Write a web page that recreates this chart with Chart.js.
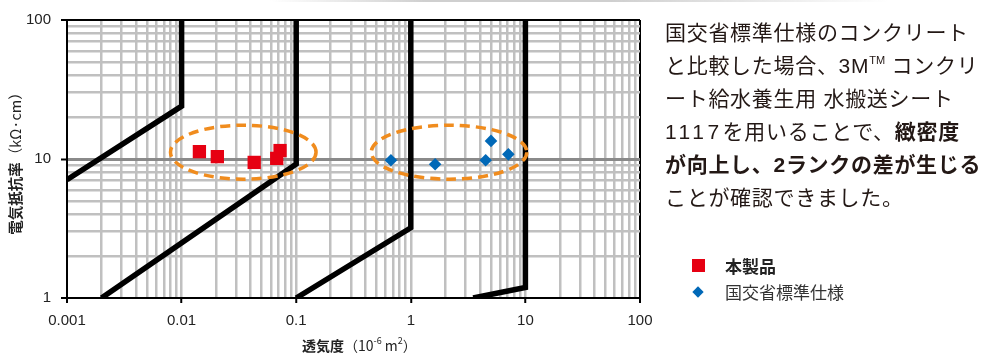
<!DOCTYPE html>
<html><head><meta charset="utf-8">
<script src="https://cdn.jsdelivr.net/npm/chart.js@4"></script>
<style>
html,body{margin:0;padding:0;background:#fff;}
#wrap{position:relative;width:1000px;height:357px;overflow:hidden;font-family:"Noto Sans CJK JP","Noto Sans",sans-serif;}
#c{position:absolute;left:0;top:0;}
#topline{position:absolute;left:270px;top:0;width:620px;height:2px;background:linear-gradient(to right,rgba(200,200,200,0),#cfcfcf 25%,#cfcfcf 55%,rgba(200,200,200,0));}
#note{position:absolute;left:665px;top:16px;font-family:"Liberation Sans","Noto Sans CJK JP",sans-serif;font-size:21px;line-height:33px;color:#231815;letter-spacing:0.7px;white-space:nowrap;}
#note sup{font-size:11px;vertical-align:9px;line-height:0;letter-spacing:0;}
#note b{font-weight:700;}
#note .num{letter-spacing:3.5px;}
.lgt{position:absolute;left:725px;font-size:17px;line-height:20px;color:#333;white-space:nowrap;}
#lgsq{position:absolute;left:692px;top:259px;width:13px;height:13px;background:#e60012;}
#lgdm{position:absolute;left:694px;top:288px;width:8px;height:8px;background:#0068b7;transform:rotate(45deg);}
</style></head>
<body>
<div id="wrap">
<canvas id="c" width="1000" height="357"></canvas>
<div id="topline"></div>
<div id="note">国交省標準仕様のコンクリート<br>と比較した場合、3M<sup>TM</sup> コンクリ<br>ート給水養生用 水搬送シート<br><span class="num">1117</span>を用いることで、<b>緻密度</b><br><b>が向上し、2ランクの差が生じる</b><br>ことが確認できました。</div>
<div id="lgsq"></div><div class="lgt" style="top:256px;font-weight:700;color:#222;">本製品</div>
<div id="lgdm"></div><div class="lgt" style="top:282px;">国交省標準仕様</div>
</div>
<script>
// ---- data ----
const xTickLabels = ['0.001','0.01','0.1','1','10','100'];
const yTickLabels = ['1','10','100'];
const minorSteps = [1,2,3,4,5,6,7,8,9];

const productX = [0.0143, 0.0205, 0.043, 0.0676, 0.0723];
const productY = [11.3, 10.4, 9.45, 10.1, 11.5];

const standardX = [0.671, 1.63, 4.5, 5.01, 7.1];
const standardY = [9.8, 9.16, 9.8, 13.5, 10.8];

const boundaryAX = [0.001, 0.01, 0.01];
const boundaryAY = [7.1, 24, 100];
const boundaryBX = [0.002, 0.1, 0.1];
const boundaryBY = [1, 9.2, 100];
const boundaryCX = [0.1, 1, 1];
const boundaryCY = [1, 3.2, 100];
const boundaryDX = [3.5, 10, 10];
const boundaryDY = [1, 1.19, 100];

const ellipseProductX = [0.008, 0.149];
const ellipseProductY = [7.16, 17.5];
const ellipseStandardX = [0.452, 10.3];
const ellipseStandardY = [7.16, 17.5];

// ---- helpers ----
const pts = (xs, ys) => xs.map((x, i) => ({x: x, y: ys[i]}));
function buildTicks(labels){
  const dec = labels.map(Number);
  const out = [];
  dec.forEach((d, i) => {
    if (i === dec.length - 1) { out.push(d); return; }
    minorSteps.forEach(m => out.push(Number((m * d).toPrecision(6))));
  });
  return {dec, out};
}
const xT = buildTicks(xTickLabels);
const yT = buildTicks(yTickLabels);
const isMajor = (dec, v) => dec.some(d => Math.abs(d - v) / d < 1e-9);
const labelOf = (dec, labels, v) => { const i = dec.findIndex(d => Math.abs(d - v) / d < 1e-9); return i >= 0 ? labels[i] : ''; };

const lineDs = (xs, ys) => ({
  type: 'line', data: pts(xs, ys), showLine: true, borderColor: '#000', borderWidth: 5.5,
  pointRadius: 0, fill: false, tension: 0, borderJoinStyle: 'miter', clip: 0, order: 2
});

const overlay = {
  id: 'overlay',
  afterDatasetsDraw(chart){
    const {ctx, scales: {x, y}} = chart;
    const ell = (xs, ys) => {
      const x0 = x.getPixelForValue(xs[0]), x1 = x.getPixelForValue(xs[1]);
      const y0 = y.getPixelForValue(ys[0]), y1 = y.getPixelForValue(ys[1]);
      ctx.beginPath();
      ctx.ellipse((x0 + x1) / 2, (y0 + y1) / 2, Math.abs(x1 - x0) / 2, Math.abs(y1 - y0) / 2, 0, 0, Math.PI * 2);
      ctx.stroke();
    };
    ctx.save();
    ctx.setLineDash([10, 6]);
    ctx.lineWidth = 3.5;
    ctx.strokeStyle = '#f08c1e';
    ell(ellipseProductX, ellipseProductY);
    ell(ellipseStandardX, ellipseStandardY);
    ctx.restore();
  },
  afterDraw(chart){
    const ctx = chart.ctx;
    const fam = '"Noto Sans CJK JP", sans-serif';
    function rich(parts, x, y, center){
      let w = 0;
      parts.forEach(p => { ctx.font = p.f; p.w = ctx.measureText(p.t).width; w += p.w; });
      let cx = center ? x - w / 2 : x;
      parts.forEach(p => { ctx.font = p.f; ctx.fillText(p.t, cx, y + (p.dy || 0)); cx += p.w; });
    }
    ctx.save();
    ctx.fillStyle = '#222';
    ctx.textBaseline = 'middle';
    ctx.textAlign = 'left';
    // y title
    ctx.save();
    ctx.translate(15, 160);
    ctx.rotate(-Math.PI / 2);
    rich([{t: '電気抵抗率', f: 'bold 14.5px ' + fam}, {t: '（kΩ·cm）', f: '14.5px ' + fam}], 0, 0, true);
    ctx.restore();
    // x title
    rich([
      {t: '透気度', f: 'bold 14px ' + fam},
      {t: '（10', f: '14px ' + fam},
      {t: '-6', f: '9px ' + fam, dy: -5},
      {t: ' m', f: '14px ' + fam},
      {t: '2', f: '9px ' + fam, dy: -5},
      {t: '）', f: '14px ' + fam}
    ], 302, 346, false);
    ctx.restore();
  }
};

new Chart(document.getElementById('c'), {
  type: 'scatter',
  data: {
    datasets: [
      lineDs(boundaryAX, boundaryAY),
      lineDs(boundaryBX, boundaryBY),
      lineDs(boundaryCX, boundaryCY),
      lineDs(boundaryDX, boundaryDY),
      {label: '本製品', data: pts(productX, productY), pointStyle: 'rect', pointRadius: 9.4,
       backgroundColor: '#e60012', borderWidth: 0, order: 1},
      {label: '国交省標準仕様', data: pts(standardX, standardY), pointStyle: 'rectRot', pointRadius: 6.3,
       backgroundColor: '#0068b7', borderWidth: 0, order: 1}
    ]
  },
  options: {
    responsive: false,
    animation: false,
    events: [],
    layout: {padding: {top: 20, right: 360, left: 0, bottom: 0}},
    plugins: {legend: {display: false}, tooltip: {enabled: false}},
    scales: {
      x: {
        type: 'logarithmic', min: 0.001, max: 100,
        afterBuildTicks: s => { s.ticks = xT.out.map(v => ({value: v, major: isMajor(xT.dec, v)})); },
        afterFit: s => { s.height = 59; },
        ticks: {autoSkip: false, maxRotation: 0, padding: 9, color: '#222',
          font: {family: '"Liberation Sans", Arial, sans-serif', size: 15},
          callback: v => labelOf(xT.dec, xTickLabels, v)},
        grid: {
          tickLength: 5,
          color: c => (c.tick && (c.tick.value === 0.001 || c.tick.value === 100)) ? '#000' : '#c0c0c0',
          lineWidth: c => (c.tick && (c.tick.value === 0.001 || c.tick.value === 100)) ? 2 : 2.5,
          tickColor: c => (c.tick && isMajor(xT.dec, c.tick.value)) ? '#000' : 'rgba(0,0,0,0)',
          tickWidth: 2
        },
        border: {color: '#000', width: 2}
      },
      y: {
        type: 'logarithmic', min: 1, max: 100,
        afterBuildTicks: s => { s.ticks = yT.out.map(v => ({value: v, major: isMajor(yT.dec, v)})); },
        afterFit: s => { s.width = 67; },
        ticks: {autoSkip: false, padding: 10, color: '#222',
          font: {family: '"Liberation Sans", Arial, sans-serif', size: 15},
          callback: v => labelOf(yT.dec, yTickLabels, v)},
        grid: {
          tickLength: 6,
          color: c => { const v = c.tick && c.tick.value; if (v === 10) return '#8a8a8a'; if (v === 1 || v === 100) return '#000'; return '#c0c0c0'; },
          lineWidth: c => { const v = c.tick && c.tick.value; if (v === 10) return 3; if (v === 1 || v === 100) return 2; return 2.5; },
          tickColor: c => (c.tick && isMajor(yT.dec, c.tick.value)) ? '#000' : 'rgba(0,0,0,0)',
          tickWidth: 2
        },
        border: {color: '#000', width: 2}
      }
    }
  },
  plugins: [overlay]
});
</script>
</body></html>
